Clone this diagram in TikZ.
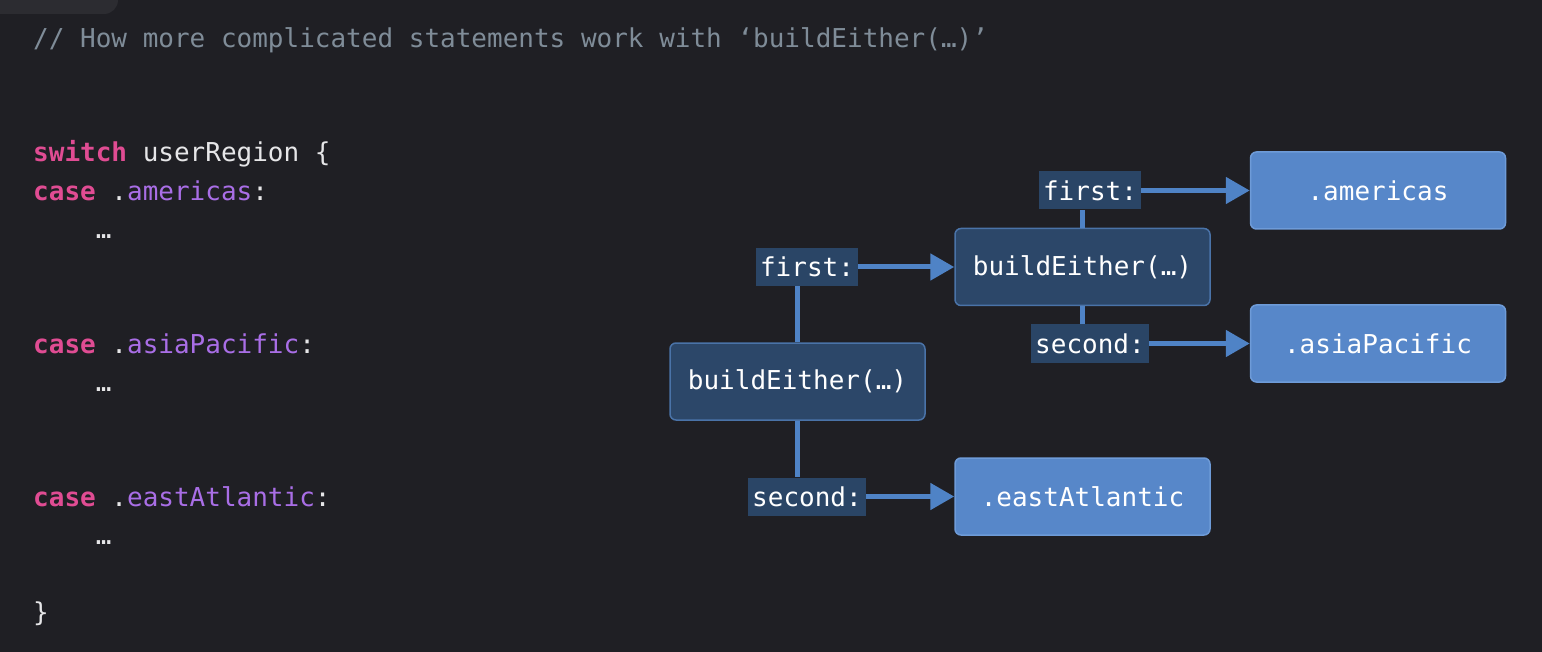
\documentclass[tikz,border=0pt]{standalone}
\usepackage{fontspec}
\setmonofont{DejaVu Sans Mono}
\usetikzlibrary{positioning, arrows.meta}

\definecolor{bgdark}{HTML}{1F1F24}
\definecolor{tabgrey}{HTML}{2C2C31}
\definecolor{cmt}{HTML}{7F8C98}
\definecolor{kw}{HTML}{E04C93}
\definecolor{member}{HTML}{A96EE6}
\definecolor{plain}{HTML}{E6E6E8}
\definecolor{eitherfill}{HTML}{2C4769}
\definecolor{eitherline}{HTML}{4A73A8}
\definecolor{tagfill}{HTML}{2A4566}
\definecolor{regionfill}{HTML}{5787C9}
\definecolor{regionline}{HTML}{6E9BD8}
\definecolor{wirecol}{HTML}{4F83C6}

\newcommand{\codefont}{\ttfamily\fontsize{26}{31}\selectfont}

\begin{document}
\begin{tikzpicture}[x=1pt, y=-1pt,
    code/.style={font=\codefont, text=plain, anchor=base west, inner sep=0pt},
    box/.style={font=\codefont, text=white, align=center, inner sep=0pt},
    either/.style={box, fill=eitherfill, draw=eitherline, line width=1.5pt, rounded corners=6pt, minimum width=255pt, minimum height=77pt},
    region/.style={box, fill=regionfill, draw=regionline, line width=1.5pt, rounded corners=6pt, minimum width=255pt, minimum height=77pt},
    tag/.style={box, fill=tagfill, inner xsep=4pt, minimum height=38pt},
    wire/.style={draw=wirecol, line width=5pt},
    flow/.style={wire, -{Triangle[length=24pt, width=26pt]}}
]
\fill[bgdark] (0,0) rectangle (1542,652);
\useasboundingbox (0,0) rectangle (1542,652);
\fill[tabgrey, rounded corners=14pt] (-20,-20) rectangle (118,14);

% code
\node[code, text=cmt] (comment) at (33, 47.25) {// How more complicated statements work with ‘buildEither(…)’};
\node[code] (switchline) at (33, 162) {{\color{kw}\bfseries switch} userRegion \{};
\node[code] (caseamericas) at (33, 200.25) {{\color{kw}\bfseries case} .{\color{member}americas}:};
\node[code] (caseasia) at (33, 353.25) {{\color{kw}\bfseries case} .{\color{member}asiaPacific}:};
\node[code] (caseeast) at (33, 506.25) {{\color{kw}\bfseries case} .{\color{member}eastAtlantic}:};
\foreach \i/\y in {1/238.5,2/391.5,3/544.5}{
    \node[code] (dots\i) at (33, \y) {\ \ \ \ …};
}
\node[code] (closing) at (33, 621) {\}};

% diagram
\node[either] (outer) at (797.5, 381.5) {buildEither(…)};
\node[either] (inner) at (1082.5, 267) {buildEither(…)};
\node[region] (americas) at (1378, 190.5) {.americas};
\node[region] (asia) at (1378, 343.5) {.asiaPacific};
\node[region] (east) at (1082.5, 496.5) {.eastAtlantic};
\node[tag] (outerfirst) at (807, 267) {first:};
\node[tag] (outersecond) at (807, 496.5) {second:};
\node[tag] (innerfirst) at (1090, 190.5) {first:};
\node[tag] (innersecond) at (1090, 343.5) {second:};

\draw[wire] (outer.north) -- (outer.north |- outerfirst.south);
\draw[wire] (outer.south) -- (outer.south |- outersecond.north);
\draw[wire] (inner.north) -- (inner.north |- innerfirst.south);
\draw[wire] (inner.south) -- (inner.south |- innersecond.north);

\draw[flow] (outerfirst.east) -- (inner.west);
\draw[flow] (outersecond.east) -- (east.west);
\draw[flow] (innerfirst.east) -- (americas.west);
\draw[flow] (innersecond.east) -- (asia.west);
\end{tikzpicture}
\end{document}
